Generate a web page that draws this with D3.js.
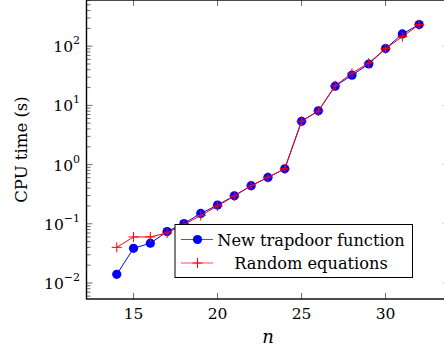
<!DOCTYPE html>
<html>
<head>
<meta charset="utf-8">
<script src="https://cdn.jsdelivr.net/npm/d3@7"></script>
<style>
  body { margin: 0; background: #fff; }
</style>
</head>
<body>
<svg id="chart" width="444" height="351" font-family="'DejaVu Serif', 'Liberation Serif', serif"></svg>
<script>
const nValues = [14, 15, 16, 17, 18, 19, 20, 21, 22, 23, 24, 25, 26, 27, 28, 29, 30, 31, 32];
const trapdoorTimes = [0.014, 0.0385, 0.047, 0.074, 0.101, 0.15, 0.207, 0.298, 0.44, 0.607, 0.85, 5.4, 8.1, 21.1, 32.4, 50, 91, 161, 232];
const randomTimes = [0.040, 0.060, 0.060, 0.070, 0.098, 0.138, 0.200, 0.295, 0.44, 0.61, 0.85, 5.4, 8.0, 21.5, 35, 52, 91, 145, 232];
const xTicks = [15, 20, 25, 30];
const yTickExps = [-2, -1, 0, 1, 2];
const legendLabels = ["New trapdoor function", "Random equations"];

const svg = d3.select('#chart');

// axis box (top and right edges fall just outside the picture)
const plotLeft = 86.5, plotRight = 449.4, plotTop = 0, plotBottom = 299;
const x = d3.scaleLinear().domain([12.2, 33.8]).range([plotLeft, plotRight]);
const y = d3.scaleLog().domain([Math.pow(10, -2.27), Math.pow(10, 2.78)]).range([plotBottom, plotTop]);

// minor + major ticks on the log axis
const logTicks = [];
for (let e = -3; e <= 3; e++) {
  for (let k = 1; k <= 9; k++) {
    const v = k * Math.pow(10, e);
    if (v >= y.domain()[0] && v <= y.domain()[1]) logTicks.push({v, major: k === 1});
  }
}

const ticks = svg.append('g').attr('stroke', '#444').attr('stroke-width', 0.8);
ticks.selectAll('.yl').data(logTicks).join('line')
  .attr('x1', plotLeft).attr('x2', d => plotLeft + (d.major ? 6 : 4))
  .attr('y1', d => y(d.v)).attr('y2', d => y(d.v));
ticks.selectAll('.yr').data(logTicks).join('line')
  .attr('stroke', '#bbb')
  .attr('x1', plotRight).attr('x2', d => plotRight - (d.major ? 7 : 4))
  .attr('y1', d => y(d.v)).attr('y2', d => y(d.v));
ticks.selectAll('.xb').data(xTicks).join('line')
  .attr('x1', d => x(d)).attr('x2', d => x(d))
  .attr('y1', plotBottom).attr('y2', plotBottom - 6);
ticks.selectAll('.xt').data(xTicks).join('line')
  .attr('x1', d => x(d)).attr('x2', d => x(d))
  .attr('y1', plotTop).attr('y2', plotTop + 6);

// frame
svg.append('rect')
  .attr('x', plotLeft).attr('y', plotTop)
  .attr('width', plotRight - plotLeft).attr('height', plotBottom - plotTop)
  .attr('fill', 'none').attr('stroke', '#000').attr('stroke-width', 1.4);

// tick labels
svg.selectAll('.xlab').data(xTicks).join('text')
  .attr('x', d => x(d)).attr('y', 319)
  .attr('text-anchor', 'middle').attr('font-size', 15.5)
  .text(d => d);

const ylab = svg.selectAll('.ylab').data(yTickExps).join('text')
  .attr('x', 80).attr('y', d => y(Math.pow(10, d)) + 6)
  .attr('text-anchor', 'end').attr('font-size', 15.5);
ylab.append('tspan').text('10');
ylab.append('tspan').attr('dy', -8).attr('font-size', 11)
  .text(d => d < 0 ? '\u2212' + (-d) : d);

// axis titles
svg.append('text')
  .attr('transform', `translate(27,${(plotTop + plotBottom) / 2}) rotate(-90)`)
  .attr('text-anchor', 'middle').attr('font-size', 16.5)
  .text('CPU time (s)');
svg.append('text')
  .attr('x', (plotLeft + plotRight) / 2).attr('y', 343)
  .attr('text-anchor', 'middle').attr('font-size', 18).attr('font-style', 'italic')
  .text('n');

// series
const line = d3.line().x(d => x(d[0])).y(d => y(d[1]));
const blueData = nValues.map((n, i) => [n, trapdoorTimes[i]]);
const redData = nValues.map((n, i) => [n, randomTimes[i]]);

svg.append('path').datum(blueData).attr('d', line)
  .attr('fill', 'none').attr('stroke', '#0000ff').attr('stroke-width', 1);
svg.selectAll('.dot').data(blueData).join('circle')
  .attr('cx', d => x(d[0])).attr('cy', d => y(d[1])).attr('r', 4.6)
  .attr('fill', '#0000ff');

svg.append('path').datum(redData).attr('d', line)
  .attr('fill', 'none').attr('stroke', '#ff0000').attr('stroke-width', 1);
svg.selectAll('.plus').data(redData).join('path')
  .attr('transform', d => `translate(${x(d[0])},${y(d[1])})`)
  .attr('d', 'M-5,0H5M0,-5V5')
  .attr('stroke', '#ff0000').attr('stroke-width', 1).attr('fill', 'none');

// legend
const legend = svg.append('g');
legend.append('rect')
  .attr('x', 175).attr('y', 224.5).attr('width', 237.5).attr('height', 53)
  .attr('fill', '#fff').attr('stroke', '#000').attr('stroke-width', 1);
const rows = [239.5, 263];
legend.append('line').attr('x1', 181).attr('x2', 213).attr('y1', rows[0]).attr('y2', rows[0])
  .attr('stroke', '#4d4dff').attr('stroke-width', 1);
legend.append('circle').attr('cx', 197.5).attr('cy', rows[0]).attr('r', 4.6).attr('fill', '#0000ff');
legend.append('line').attr('x1', 181).attr('x2', 213).attr('y1', rows[1]).attr('y2', rows[1])
  .attr('stroke', '#ff4d4d').attr('stroke-width', 1);
legend.append('path').attr('transform', `translate(197.5,${rows[1]})`)
  .attr('d', 'M-5,0H5M0,-5V5').attr('stroke', '#ff0000').attr('stroke-width', 1);
legend.selectAll('.ltext').data(legendLabels).join('text')
  .attr('x', 311).attr('y', (d, i) => rows[i] + 6)
  .attr('text-anchor', 'middle').attr('font-size', 16.2)
  .text(d => d);
</script>
</body>
</html>
